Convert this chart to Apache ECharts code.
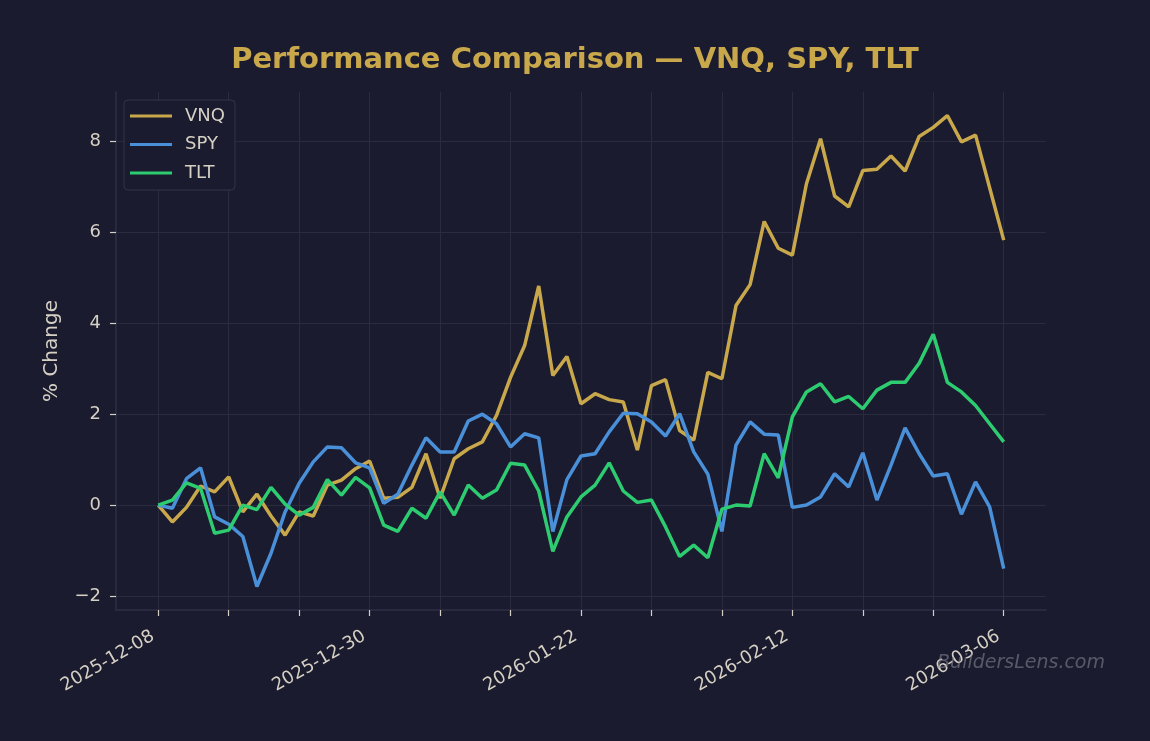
<!DOCTYPE html>
<html>
<head>
<meta charset="utf-8">
<script src="https://cdn.jsdelivr.net/npm/echarts@6/dist/echarts.min.js"></script>
<style>
html,body{margin:0;padding:0;background:#1a1b2e;}
#main{width:1150px;height:741px;}
</style>
</head>
<body>
<div id="main"></div>
<script>
// trading days
var dates = [
	'2025-12-08','2025-12-09','2025-12-10','2025-12-11','2025-12-12','2025-12-15','2025-12-16','2025-12-17','2025-12-18','2025-12-19',
	'2025-12-22','2025-12-23','2025-12-24','2025-12-26','2025-12-29','2025-12-30','2025-12-31','2026-01-02','2026-01-05','2026-01-06',
	'2026-01-07','2026-01-08','2026-01-09','2026-01-12','2026-01-13','2026-01-14','2026-01-15','2026-01-16','2026-01-20','2026-01-21',
	'2026-01-22','2026-01-23','2026-01-26','2026-01-27','2026-01-28','2026-01-29','2026-01-30','2026-02-02','2026-02-03','2026-02-04',
	'2026-02-05','2026-02-06','2026-02-09','2026-02-10','2026-02-11','2026-02-12','2026-02-13','2026-02-17','2026-02-18','2026-02-19',
	'2026-02-20','2026-02-23','2026-02-24','2026-02-25','2026-02-26','2026-02-27','2026-03-02','2026-03-03','2026-03-04','2026-03-05',
	'2026-03-06'
];
var vnq = [0,-0.37,-0.05,0.42,0.29,0.62,-0.15,0.24,-0.24,-0.66,
	-0.15,-0.24,0.44,0.55,0.80,0.97,0.15,0.17,0.39,1.13,
	0.15,1.02,1.24,1.39,1.97,2.81,3.51,4.82,2.85,3.27,
	2.23,2.45,2.32,2.27,1.21,2.63,2.76,1.64,1.43,2.92,
	2.78,4.39,4.85,6.24,5.65,5.50,7.07,8.06,6.80,6.56,
	7.36,7.39,7.68,7.35,8.11,8.31,8.57,7.99,8.14,6.98,
	5.83];
var spy = [0,-0.07,0.58,0.82,-0.26,-0.42,-0.69,-1.79,-1.06,-0.15,
	0.48,0.95,1.28,1.26,0.93,0.82,0.04,0.24,0.88,1.48,
	1.17,1.17,1.85,2.00,1.79,1.28,1.57,1.48,-0.58,0.56,
	1.08,1.13,1.61,2.02,2.01,1.83,1.52,2.01,1.17,0.68,
	-0.58,1.32,1.83,1.56,1.54,-0.05,0.00,0.18,0.69,0.40,
	1.15,0.11,0.88,1.70,1.13,0.64,0.69,-0.20,0.51,-0.04,
	-1.40];
var tlt = [0,0.11,0.49,0.37,-0.62,-0.55,0.00,-0.10,0.39,0.02,
	-0.22,-0.05,0.56,0.22,0.61,0.38,-0.44,-0.58,-0.07,-0.29,
	0.29,-0.22,0.44,0.15,0.33,0.92,0.88,0.31,-1.02,-0.26,
	0.18,0.44,0.93,0.31,0.06,0.11,-0.48,-1.13,-0.88,-1.16,
	-0.09,0.00,-0.02,1.13,0.60,1.94,2.49,2.67,2.27,2.39,
	2.12,2.53,2.70,2.70,3.12,3.76,2.70,2.49,2.19,1.79,
	1.39];
var names = ['VNQ','SPY','TLT'];
var colors = ['#c9a84c','#4a90d9','#2ecc71'];
var xTicks = [0,5,10,15,20,25,30,35,40,45,50,55,60];
var xLabels = [0,15,30,45,60];
var yTicks = [-2,0,2,4,6,8];

function toPairs(arr){
	var out = [];
	for(var i = 0; i < arr.length; i++){
		out.push([i, arr[i]]);
	}
	return out;
}
// 5% margins like matplotlib
var all = vnq.concat(spy, tlt);
var yLo = Math.min.apply(null, all), yHi = Math.max.apply(null, all);
var yPad = (yHi - yLo) * 0.05;
var xPad = (dates.length - 1) * 0.05;

var textColor = '#d6d0c4';
var gridColor = '#2a2b3f';
var spineColor = '#2e2f44';

var series = [];
var dataSets = [vnq, spy, tlt];
for(var k = 0; k < names.length; k++){
	series.push({
		name: names[k],
		type: 'line',
		data: toPairs(dataSets[k]),
		showSymbol: false,
		symbol: 'none',
		lineStyle: {width: 3.5, color: colors[k]},
		itemStyle: {color: colors[k]}
	});
}

var option = {
	backgroundColor: '#1a1b2e',
	animation: false,
	title: {
		text: 'Performance Comparison — VNQ, SPY, TLT',
		left: 'center',
		top: 41,
		textStyle: {color: '#c9a84c', fontSize: 29, fontWeight: 'bold', fontFamily: 'DejaVu Sans'}
	},
	legend: {
		orient: 'vertical',
		left: 124,
		top: 100,
		padding: [7, 10, 8, 6],
		itemWidth: 42,
		itemHeight: 3,
		itemGap: 10.5,
		icon: 'rect',
		backgroundColor: '#1a1b2e',
		borderColor: '#33344a',
		borderWidth: 1,
		borderRadius: 4,
		textStyle: {color: textColor, fontSize: 18, lineHeight: 18, fontFamily: 'DejaVu Sans', padding: [0, 0, 0, 8]},
		data: names
	},
	grid: {left: 116, right: 104, top: 92, bottom: 131, containLabel: false},
	xAxis: {
		type: 'value',
		min: -xPad,
		max: dates.length - 1 + xPad,
		axisLine: {show: true, onZero: false, lineStyle: {color: spineColor, width: 1.5}},
		axisTick: {show: true, customValues: xTicks, length: 6, lineStyle: {color: textColor, width: 1.2}},
		splitLine: {show: true, lineStyle: {color: gridColor, width: 1}},
		axisLabel: {
			customValues: xLabels,
			rotate: 30,
			color: textColor,
			fontSize: 18,
			fontFamily: 'DejaVu Sans',
			margin: 22,
			padding: [0, 6, 0, 0],
			formatter: function(v){ return dates[Math.round(v)]; }
		}
	},
	yAxis: {
		type: 'value',
		min: yLo - yPad,
		max: yHi + yPad,
		name: '% Change',
		nameLocation: 'middle',
		nameGap: 54,
		nameTextStyle: {color: textColor, fontSize: 20, fontFamily: 'DejaVu Sans'},
		axisLine: {show: true, onZero: false, lineStyle: {color: spineColor, width: 1.5}},
		axisTick: {show: true, customValues: yTicks, length: 6, lineStyle: {color: textColor, width: 1.2}},
		splitLine: {show: true, lineStyle: {color: gridColor, width: 1}},
		axisLabel: {
			customValues: yTicks,
			color: textColor,
			fontSize: 18,
			fontFamily: 'DejaVu Sans',
			margin: 15,
			formatter: function(v){ return v < 0 ? '\u2212' + Math.abs(v) : String(v); }
		}
	},
	graphic: [{
		type: 'text',
		right: 45,
		top: 654,
		style: {
			text: 'BuildersLens.com',
			fill: 'rgba(140,140,150,0.55)',
			font: 'italic 19px "DejaVu Sans"'
		},
		z: 100
	}],
	series: series
};

var myChart = echarts.init(document.getElementById('main'));
myChart.setOption(option);
</script>
</body>
</html>
